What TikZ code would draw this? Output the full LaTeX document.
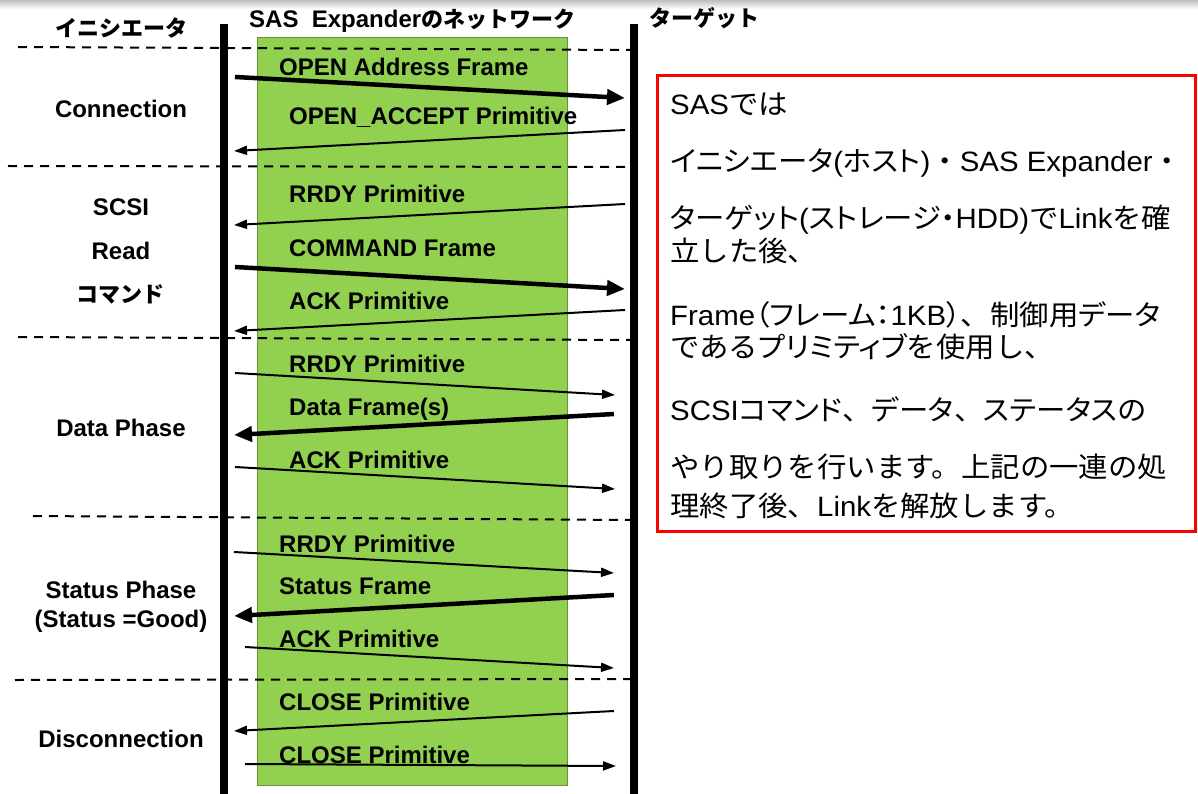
\documentclass[tikz,border=0pt]{standalone}
\usepackage{fontspec}
\setmainfont{Liberation Sans}
\newfontfamily\cjk{Noto Sans CJK JP}
\newfontfamily\cjkp[RawFeature=+palt, FakeStretch=1.05]{Noto Sans CJK JP}
\newfontfamily\cjkf[FakeStretch=1.05]{Noto Sans CJK JP}
\newfontfamily\latw[FakeStretch=1.05]{Liberation Sans}
\usetikzlibrary{arrows.meta}
\newcommand\jkata[1]{{\cjkp #1}}
\newcommand\jfull[1]{{\cjkf #1}}
\begin{document}
\begin{tikzpicture}[x=1pt,y=-1pt,
  lifeline/.style={line width=8pt},
  sep/.style={line width=2pt, dash pattern=on 9pt off 7pt},
  netbox/.style={fill=netgreen, draw=netgreen!70!black, line width=0.8pt},
  bigmsg/.style={line width=4.5pt, -{Triangle[length=18pt,width=15pt]}},
  smallmsg/.style={line width=2pt, -{Triangle[length=13pt,width=9pt]}},
  lbl/.style={anchor=base west, inner sep=0pt, font=\fontsize{24}{28}\selectfont\bfseries},
  phase/.style={anchor=base, inner sep=0pt, font=\fontsize{24}{28}\selectfont\bfseries},
  jhead/.style={inner sep=0pt, font=\fontsize{22}{26}\selectfont\cjk\bfseries},
  note/.style={anchor=base west, inner sep=0pt, font=\fontsize{28}{32}\selectfont\latw},
  redbox/.style={draw=red, line width=3pt}
]
\definecolor{netgreen}{HTML}{92D050}
\useasboundingbox (0,0) rectangle (1198,794);
\shade[top color=black!25, bottom color=white] (0,0) rectangle (1198,9);

% network area
\draw[netbox] (257,37) rectangle (567,785);

% headers
\node[jhead, anchor=base] (hIni) at (121,37) {イニシエータ};
\node[lbl] (hNet) at (249,28) {SAS\ \ Expander{\cjk\bfseries\fontsize{22}{26}\selectfont のネットワーク}};
\node[jhead, anchor=base west] (hTgt) at (649,27) {ターゲット};

% dashed separators
\coordinate (s1a) at (18,47);  \coordinate (s1b) at (630,50);
\coordinate (s2a) at (8,166);  \coordinate (s2b) at (630,167);
\coordinate (s3a) at (18,337); \coordinate (s3b) at (630,340);
\coordinate (s4a) at (33,516); \coordinate (s4b) at (630,520);
\coordinate (s5a) at (15,680); \coordinate (s5b) at (630,679);
\draw[sep] (s1a) -- (s1b);
\draw[sep] (s2a) -- (s2b);
\draw[sep] (s3a) -- (s3b);
\draw[sep] (s4a) -- (s4b);
\draw[sep] (s5a) -- (s5b);

% lifelines
\coordinate (iniTop) at (224,24); \coordinate (iniBot) at (224,794);
\coordinate (tgtTop) at (634,24); \coordinate (tgtBot) at (634,794);
\draw[lifeline] (iniTop) -- (iniBot);
\draw[lifeline] (tgtTop) -- (tgtBot);

% phase labels
\node[phase] (pConn) at (121,118) {Connection};
\node[phase] (pScsi) at (121,216) {SCSI};
\node[phase] (pRead) at (121,259) {Read};
\node[jhead, anchor=base] (pCmd) at (120,302) {コマンド};
\node[phase] (pData) at (121,436) {Data Phase};
\node[phase] (pStat) at (121,598) {Status Phase};
\node[phase] (pGood) at (121,627) {(Status =Good)};
\node[phase] (pDisc) at (121,747) {Disconnection};

% message end points
\coordinate (m1a) at (235,77);  \coordinate (m1b) at (625,98);
\coordinate (m2a) at (625,130); \coordinate (m2b) at (234,151);
\coordinate (m3a) at (625,204); \coordinate (m3b) at (234,225);
\coordinate (m4a) at (235,267); \coordinate (m4b) at (625,289);
\coordinate (m5a) at (625,310); \coordinate (m5b) at (234,331);
\coordinate (m6a) at (235,373); \coordinate (m6b) at (615,395);
\coordinate (m7a) at (614,414); \coordinate (m7b) at (234,435);
\coordinate (m8a) at (235,467); \coordinate (m8b) at (615,489);
\coordinate (m9a) at (234,552); \coordinate (m9b) at (614,573);
\coordinate (m10a) at (614,595); \coordinate (m10b) at (234,616);
\coordinate (m11a) at (245,647); \coordinate (m11b) at (614,668);
\coordinate (m12a) at (614,711); \coordinate (m12b) at (234,731);
\coordinate (m13a) at (245,764); \coordinate (m13b) at (616,766);

\draw[bigmsg] (m1a) -- (m1b);
\draw[smallmsg] (m2a) -- (m2b);
\draw[smallmsg] (m3a) -- (m3b);
\draw[bigmsg] (m4a) -- (m4b);
\draw[smallmsg] (m5a) -- (m5b);
\draw[smallmsg] (m6a) -- (m6b);
\draw[bigmsg] (m7a) -- (m7b);
\draw[smallmsg] (m8a) -- (m8b);
\draw[smallmsg] (m9a) -- (m9b);
\draw[bigmsg] (m10a) -- (m10b);
\draw[smallmsg] (m11a) -- (m11b);
\draw[smallmsg] (m12a) -- (m12b);
\draw[smallmsg] (m13a) -- (m13b);

% message labels
\node[lbl] (l1) at (279,76) {OPEN Address Frame};
\node[lbl] (l2) at (289,125) {OPEN\_ACCEPT Primitive};
\node[lbl] (l3) at (289,203) {RRDY Primitive};
\node[lbl] (l4) at (289,256) {COMMAND Frame};
\node[lbl] (l5) at (289,309) {ACK Primitive};
\node[lbl] (l6) at (289,372) {RRDY Primitive};
\node[lbl] (l7) at (289,415) {Data Frame(s)};
\node[lbl] (l8) at (289,468) {ACK Primitive};
\node[lbl] (l9) at (279,552) {RRDY Primitive};
\node[lbl] (l10) at (279,594) {Status Frame};
\node[lbl] (l11) at (279,647) {ACK Primitive};
\node[lbl] (l12) at (279,710) {CLOSE Primitive};
\node[lbl] (l13) at (279,763) {CLOSE Primitive};

% explanation box
\draw[redbox] (657,76) rectangle (1195,531);
\node[note] (n1) at (670,115) {SAS\jfull{では}};
\node[note] (n2) at (670,172) {\jkata{イニシエータ}(\jkata{ホスト})\jfull{・}SAS Expander\jfull{・}};
\node[note] (n3) at (670,229) {\jkata{ターゲット}(\jkata{ストレージ・}HDD)\jfull{で}Link\jfull{を確}};
\node[note] (n4) at (670,261) {\jfull{立した後、}};
\node[note] (n5) at (670,325) {Frame\jkata{（フレーム：}1KB\jkata{）}\jfull{、制御用}\jkata{データ}};
\node[note] (n6) at (670,357) {\jfull{である}\jkata{プリミティブ}\jfull{を使用し、}};
\node[note] (n7) at (670,420) {SCSI\jkata{コマンド}\jfull{、}\jkata{データ}\jfull{、}\jkata{ステータス}\jfull{の}};
\node[note] (n8) at (670,477) {\jfull{やり取りを行います。上記の一連の処}};
\node[note] (n9) at (670,516) {\jfull{理終了後、}Link\jfull{を解放します。}};
\end{tikzpicture}
\end{document}
